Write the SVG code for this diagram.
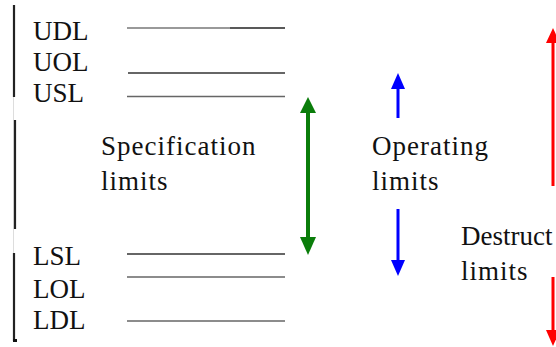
<svg xmlns="http://www.w3.org/2000/svg" width="556" height="347" viewBox="0 0 556 347">
  <style>
    .lbl { font-family: "Liberation Serif", "Times New Roman", serif; font-size: 27px; fill: #111; }
    .wide { letter-spacing: 1px; }
    .lvl { fill: none; stroke-width: 1.6; }
    .bar { fill: none; stroke: #222; stroke-width: 2.2; }
  </style>
  <rect width="556" height="347" fill="#fff"/>

  <!-- left axis bar -->
  <g id="axis">
    <line stroke="#ddd" stroke-width="1" x1="13.5" y1="5" x2="13.5" y2="341"/>
    <line class="bar" x1="14" y1="5" x2="14" y2="97"/>
    <line class="bar" x1="15" y1="120" x2="15" y2="229"/>
    <line class="bar" x1="14" y1="253" x2="14" y2="341"/>
    <rect x="13" y="339" width="4" height="3" fill="#111"/>
  </g>

  <!-- level labels -->
  <g id="upper-levels">
    <text class="lbl" x="33" y="40">UDL</text>
    <text class="lbl" x="33" y="71">UOL</text>
    <text class="lbl" x="33" y="102">USL</text>
  </g>
  <g id="lower-levels">
    <text class="lbl" x="33" y="265">LSL</text>
    <text class="lbl" x="33" y="298">LOL</text>
    <text class="lbl" x="33" y="329">LDL</text>
  </g>

  <!-- range labels -->
  <g id="spec-label">
    <text class="lbl wide" x="101" y="155">Specification</text>
    <text class="lbl wide" x="101" y="190">limits</text>
  </g>
  <g id="oper-label">
    <text class="lbl wide" x="372" y="155">Operating</text>
    <text class="lbl wide" x="372" y="190">limits</text>
  </g>
  <g id="destr-label">
    <text class="lbl" x="461" y="245">Destruct</text>
    <text class="lbl wide" x="461" y="280">limits</text>
  </g>

  <!-- level lines -->
  <g id="level-lines">
    <line class="lvl" x1="127" y1="28" x2="230" y2="28" stroke="#777"/>
    <line class="lvl" x1="230" y1="28" x2="285" y2="28" stroke="#222"/>
    <line class="lvl" x1="128" y1="73" x2="285" y2="73" stroke="#333"/>
    <line class="lvl" x1="127" y1="96.5" x2="285" y2="96.5" stroke="#666"/>
    <line class="lvl" x1="127" y1="254" x2="285" y2="254" stroke="#333"/>
    <line class="lvl" x1="127" y1="277" x2="285" y2="277" stroke="#666"/>
    <line class="lvl" x1="127" y1="321" x2="285" y2="321" stroke="#666"/>
  </g>

  <!-- range arrows -->
  <g id="connectors">
    <g id="spec-arrow" fill="#0a7d0a">
      <rect x="306" y="111" width="4" height="128"/>
      <polygon points="308,97 316,113 300,113"/>
      <polygon points="308,255 316,237 300,237"/>
    </g>
    <g id="oper-arrows" fill="#0000ff">
      <rect x="396.5" y="87" width="3" height="31"/>
      <polygon points="398,73 405,89 391,89"/>
      <rect x="396.5" y="209" width="3" height="53"/>
      <polygon points="398,276 405,260 391,260"/>
    </g>
    <g id="destr-arrows" fill="#ff0000">
      <rect x="551.5" y="41" width="3" height="145"/>
      <polygon points="553,28 560,43 546,43"/>
      <rect x="551.5" y="277" width="3" height="55"/>
      <polygon points="553,346 560,330 546,330"/>
    </g>
  </g>
</svg>
